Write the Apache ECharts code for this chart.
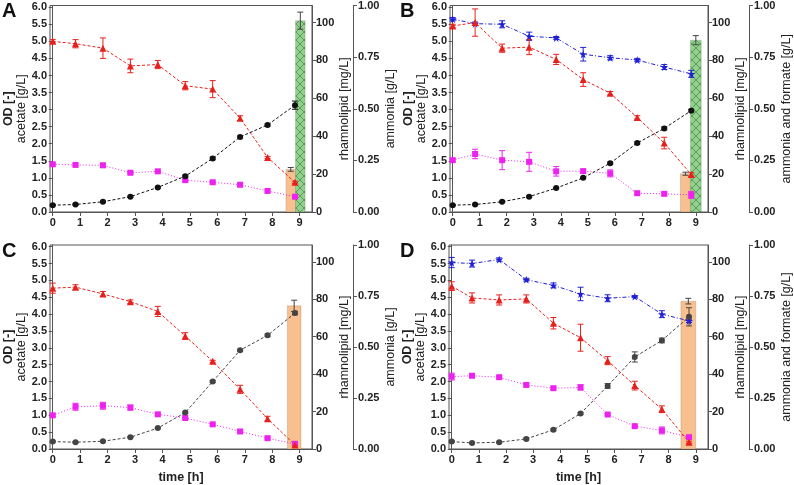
<html lang="en">
<head>
    <meta charset="UTF-8">
    <title>fermentation panels</title>
    <script src="https://cdn.jsdelivr.net/npm/echarts@6/dist/echarts.min.js"></script>
</head>
<style>
    body { margin: 0; background: #fff; }
    #container { width: 794px; height: 485px; }
</style>
<body>
<div id="container"></div>
<script>
    // time points [h]
    var timeABC = [0, 0.83, 1.83, 2.83, 3.83, 4.83, 5.83, 6.83, 7.83, 8.83];
    var timeD = [0, 0.75, 1.75, 2.75, 3.75, 4.75, 5.75, 6.75, 7.75, 8.75];
    var xTicks = [0, 1, 2, 3, 4, 5, 6, 7, 8, 9];

    // panel A
    var odA = [0.2, 0.22, 0.3, 0.45, 0.72, 1.05, 1.57, 2.2, 2.55, 3.13];
    var odErrA = [0.02, 0.02, 0.02, 0.02, 0.02, 0.03, 0.04, 0.03, 0.03, 0.12];
    var acA = [5.0, 4.93, 4.8, 4.28, 4.32, 3.7, 3.6, 2.75, 1.6, 0.87];
    var acErrA = [0.05, 0.12, 0.3, 0.2, 0.12, 0.12, 0.25, 0.07, 0.03, 0.03];
    var nhA = [0.231, 0.228, 0.226, 0.19, 0.197, 0.154, 0.144, 0.132, 0.102, 0.074];
    var nhErrA = [0.005, 0.005, 0.01, 0.005, 0.005, 0.005, 0.005, 0.008, 0.005, 0.005];
    var rlA = [22.5, 101];
    var rlErrA = [1, 4.5];

    // panel B
    var odB = [0.2, 0.22, 0.3, 0.45, 0.7, 1.0, 1.43, 2.02, 2.45, 2.97];
    var odErrB = [0.02, 0.02, 0.02, 0.02, 0.02, 0.02, 0.03, 0.03, 0.04, 0.04];
    var acB = [5.45, 5.55, 4.8, 4.83, 4.47, 3.88, 3.48, 2.77, 2.02, 1.1];
    var acErrB = [0.05, 0.4, 0.12, 0.22, 0.15, 0.2, 0.05, 0.05, 0.17, 0.05];
    var nhB = [0.251, 0.281, 0.251, 0.243, 0.197, 0.198, 0.187, 0.091, 0.088, 0.083];
    var nhErrB = [0.007, 0.023, 0.046, 0.046, 0.023, 0.007, 0.017, 0.007, 0.007, 0.017];
    var fmB = [0.934, 0.912, 0.909, 0.851, 0.843, 0.764, 0.747, 0.736, 0.702, 0.669];
    var fmErrB = [0.008, 0.008, 0.017, 0.02, 0.007, 0.033, 0.01, 0.008, 0.012, 0.017];
    var rlB = [20.2, 90.7];
    var rlErrB = [0.8, 2.4];

    // panel C
    var odC = [0.22, 0.2, 0.23, 0.35, 0.62, 1.08, 2.0, 2.93, 3.37, 4.03];
    var odErrC = [0.02, 0.02, 0.02, 0.02, 0.02, 0.02, 0.03, 0.03, 0.04, 0.05];
    var acC = [4.77, 4.8, 4.6, 4.37, 4.08, 3.35, 2.6, 1.77, 0.9, 0.12];
    var acErrC = [0.15, 0.07, 0.07, 0.05, 0.15, 0.1, 0.03, 0.12, 0.07, 0.02];
    var nhC = [0.165, 0.207, 0.212, 0.203, 0.17, 0.152, 0.121, 0.086, 0.053, 0.025];
    var nhErrC = [0.005, 0.017, 0.017, 0.012, 0.005, 0.005, 0.005, 0.005, 0.005, 0.005];
    var rlC = [76.5];
    var rlErrC = [3];

    // panel D
    var odD = [0.22, 0.18, 0.2, 0.3, 0.57, 1.05, 1.87, 2.73, 3.22, 3.92];
    var odErrD = [0.03, 0.02, 0.02, 0.03, 0.03, 0.03, 0.07, 0.15, 0.07, 0.27];
    var acD = [4.83, 4.48, 4.42, 4.45, 3.73, 3.3, 2.62, 1.88, 1.18, 0.2];
    var acErrD = [0.13, 0.15, 0.15, 0.12, 0.17, 0.4, 0.12, 0.13, 0.1, 0.03];
    var nhD = [0.355, 0.359, 0.352, 0.314, 0.298, 0.302, 0.169, 0.112, 0.091, 0.058];
    var nhErrD = [0.017, 0.005, 0.005, 0.007, 0.005, 0.013, 0.005, 0.005, 0.017, 0.008];
    var fmD = [0.914, 0.909, 0.929, 0.83, 0.802, 0.76, 0.739, 0.747, 0.661, 0.628];
    var fmErrD = [0.025, 0.017, 0.008, 0.007, 0.012, 0.033, 0.017, 0.005, 0.017, 0.008];
    var rlD = [79];
    var rlErrD = [1.5];

    var chart = echarts.init(document.getElementById('container'));

    // crosshatch pattern for the green bar
    var hatch = document.createElement('canvas');
    hatch.width = 8; hatch.height = 8;
    var hc = hatch.getContext('2d');
    hc.fillStyle = '#92d08e';
    hc.fillRect(0, 0, 8, 8);
    hc.strokeStyle = '#4f8f4c';
    hc.lineWidth = 0.8;
    hc.beginPath();
    hc.moveTo(0, 0); hc.lineTo(8, 8);
    hc.moveTo(8, 0); hc.lineTo(0, 8);
    hc.stroke();

    var starPath = 'path://M50,0 L61,35 L98,35 L68,57 L79,91 L50,70 L21,91 L32,57 L2,35 L39,35 Z';
    var FONT = 'Liberation Sans';
    var labelFont = { color: '#222', fontWeight: 'bold', fontSize: 11, fontFamily: FONT };
    var nameFont = { color: '#222', fontSize: 12.5, fontFamily: FONT };
    var axisLineStyle = { lineStyle: { color: '#555', width: 1 } };

    var grids = [
        { left: 50, top: 5, width: 262, height: 207 },
        { left: 450, top: 5, width: 262, height: 207 },
        { left: 50, top: 245, width: 262, height: 204 },
        { left: 449, top: 245, width: 262, height: 204 }
    ];
    var ammoniaNames = ['ammonia [g/L]', 'ammonia and formate [g/L]', 'ammonia [g/L]', 'ammonia and formate [g/L]'];

    var xAxes = [], yAxes = [], series = [];

    function errBars(gi, yi, xs, ys, errs, color) {
        var d = xs.map(function (x, i) { return [x, ys[i], errs[i]]; });
        series.push({
            type: 'custom', xAxisIndex: gi, yAxisIndex: yi, z: 2, silent: true,
            data: d,
            renderItem: function (params, api) {
                var lo = api.coord([api.value(0), api.value(1) - api.value(2)]);
                var hi = api.coord([api.value(0), api.value(1) + api.value(2)]);
                var s = { stroke: color, lineWidth: 1 };
                return {
                    type: 'group', children: [
                        { type: 'line', shape: { x1: lo[0], y1: lo[1], x2: hi[0], y2: hi[1] }, style: s },
                        { type: 'line', shape: { x1: lo[0] - 3, y1: lo[1], x2: lo[0] + 3, y2: lo[1] }, style: s },
                        { type: 'line', shape: { x1: hi[0] - 3, y1: hi[1], x2: hi[0] + 3, y2: hi[1] }, style: s }
                    ]
                };
            }
        });
    }

    function line(gi, yi, xs, ys, errs, color, symbol, size, dash) {
        errBars(gi, yi, xs, ys, errs, color);
        series.push({
            type: 'line', xAxisIndex: gi, yAxisIndex: yi, z: 3,
            data: xs.map(function (x, i) { return [x, ys[i]]; }),
            symbol: symbol, symbolSize: size, showSymbol: true,
            itemStyle: { color: color },
            lineStyle: { color: color, width: 1, type: dash }
        });
    }

    // bars: [x0, x1, height] on the rhamnolipid axis
    function bars(gi, spans, heights, errs, fills) {
        series.push({
            type: 'custom', xAxisIndex: gi, yAxisIndex: gi * 3 + 1, z: 1, silent: true,
            data: spans.map(function (s, i) { return [s[0], s[1], heights[i], errs[i], i]; }),
            renderItem: function (params, api) {
                var p0 = api.coord([api.value(0), api.value(2)]);
                var p1 = api.coord([api.value(1), 0]);
                var ex = (p0[0] + p1[0]) / 2;
                var lo = api.coord([0, api.value(2) - api.value(3)])[1];
                var hi = api.coord([0, api.value(2) + api.value(3)])[1];
                var s = { stroke: '#444', lineWidth: 1 };
                return {
                    type: 'group', children: [
                        { type: 'rect', shape: { x: p0[0], y: p0[1], width: p1[0] - p0[0], height: p1[1] - p0[1] },
                          style: { fill: fills[api.value(4)], stroke: 'rgba(0,0,0,0.25)', lineWidth: 0.5 } },
                        { type: 'line', shape: { x1: ex, y1: lo, x2: ex, y2: hi }, style: s },
                        { type: 'line', shape: { x1: ex - 3, y1: lo, x2: ex + 3, y2: lo }, style: s },
                        { type: 'line', shape: { x1: ex - 3, y1: hi, x2: ex + 3, y2: hi }, style: s }
                    ]
                };
            }
        });
    }

    grids.forEach(function (g, gi) {
        g.show = true;
        g.borderColor = '#555';
        g.borderWidth = 1;
        var bottomRow = gi >= 2;
        xAxes.push({
            gridIndex: gi, type: 'value', min: -0.1, max: 9.45,
            name: bottomRow ? 'time [h]' : '', nameLocation: 'middle', nameGap: 22,
            nameTextStyle: Object.assign({}, nameFont, { fontWeight: 'bold' }),
            axisLine: axisLineStyle, splitLine: { show: false },
            axisTick: { customValues: xTicks, length: 4, lineStyle: { color: '#555' } },
            axisLabel: Object.assign({ customValues: xTicks, margin: 5 }, labelFont)
        });
        yAxes.push({
            gridIndex: gi, type: 'value', position: 'left', min: 0, max: 6.05, interval: 0.5,
            name: '{b|OD [-]}\n{n|acetate [g/L]}', nameLocation: 'middle', nameRotate: 90, nameGap: 21,
            nameTextStyle: { lineHeight: 13, rich: {
                b: Object.assign({}, nameFont, { fontWeight: 'bold' }),
                n: nameFont } },
            axisLine: axisLineStyle, splitLine: { show: false },
            axisTick: { length: 4 },
            axisLabel: Object.assign({ margin: 3, formatter: function (v) { return v.toFixed(1); } }, labelFont)
        });
        yAxes.push({
            gridIndex: gi, type: 'value', position: 'right', min: 0, max: 109, interval: 20,
            name: 'rhamnolipid [mg/L]', nameLocation: 'middle', nameRotate: 90, nameGap: 26,
            nameTextStyle: nameFont,
            axisLine: axisLineStyle, splitLine: { show: false },
            axisTick: { length: 4 },
            axisLabel: Object.assign({ margin: 4, showMaxLabel: false }, labelFont)
        });
        yAxes.push({
            gridIndex: gi, type: 'value', position: 'right', offset: 41, min: 0, max: 1, interval: 0.25,
            name: ammoniaNames[gi], nameLocation: 'middle', nameRotate: 90, nameGap: 31,
            nameTextStyle: nameFont,
            axisLine: { show: true, lineStyle: { color: '#555', width: 1 } }, splitLine: { show: false },
            axisTick: { length: 4 },
            axisLabel: Object.assign({ margin: 5, formatter: function (v) { return v.toFixed(2); } }, labelFont)
        });
    });

    var orange = '#f8c08e';
    var hatchFill = { image: hatch, repeat: 'repeat' };

    // bars first (behind markers)
    bars(0, [[8.5, 8.85], [8.85, 9.2]], rlA, rlErrA, [orange, hatchFill]);
    bars(1, [[8.43, 8.8], [8.8, 9.2]], rlB, rlErrB, [orange, hatchFill]);
    bars(2, [[8.55, 9.05]], rlC, rlErrC, [orange]);
    bars(3, [[8.45, 9.0]], rlD, rlErrD, [orange]);

    var panels = [
        [timeABC, odA, odErrA, acA, acErrA, nhA, nhErrA, null, null],
        [timeABC, odB, odErrB, acB, acErrB, nhB, nhErrB, fmB, fmErrB],
        [timeABC, odC, odErrC, acC, acErrC, nhC, nhErrC, null, null],
        [timeD, odD, odErrD, acD, acErrD, nhD, nhErrD, fmD, fmErrD]
    ];
    panels.forEach(function (p, gi) {
        var odColor = gi < 2 ? '#111' : '#444';
        if (p[7]) line(gi, gi * 3 + 2, p[0], p[7], p[8], '#1f1fd6', starPath, 8, [4, 2, 1, 2]);
        line(gi, gi * 3 + 2, p[0], p[5], p[6], '#ee22ee', 'rect', 6, [1, 2]);
        line(gi, gi * 3, p[0], p[3], p[4], '#e8201c', 'triangle', 7, [3, 2]);
        line(gi, gi * 3, p[0], p[1], p[2], odColor, 'circle', 6, [3, 2]);
    });

    var letterStyle = { fontSize: 20, fontWeight: 'bold', fill: '#111', fontFamily: FONT };
    chart.setOption({
        animation: false,
        grid: grids,
        xAxis: xAxes,
        yAxis: yAxes,
        series: series,
        graphic: [
            { type: 'text', left: 2, top: 1, style: Object.assign({ text: 'A' }, letterStyle) },
            { type: 'text', left: 400, top: 1, style: Object.assign({ text: 'B' }, letterStyle) },
            { type: 'text', left: 2, top: 241, style: Object.assign({ text: 'C' }, letterStyle) },
            { type: 'text', left: 400, top: 241, style: Object.assign({ text: 'D' }, letterStyle) }
        ]
    });
</script>
</body>
</html>
